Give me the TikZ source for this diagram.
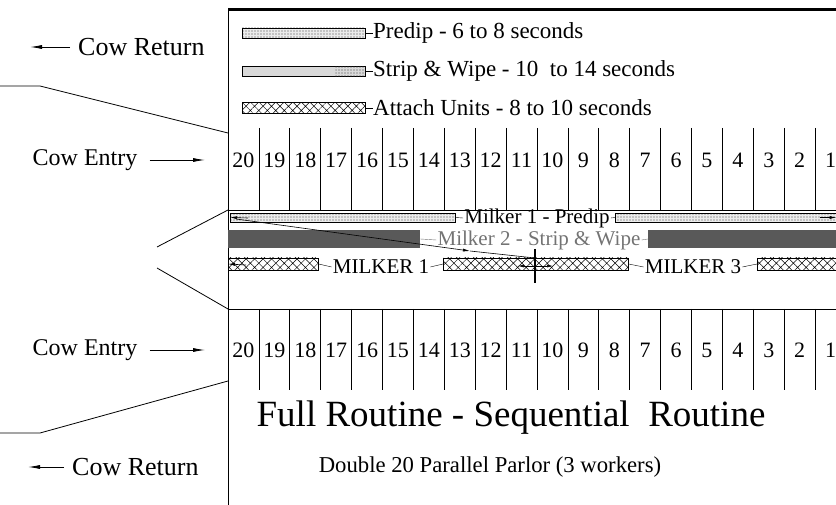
\documentclass[tikz,border=0pt]{standalone}
\usepackage{fontspec}
\setmainfont{Liberation Serif}
\usetikzlibrary{arrows.meta,patterns.meta}

\tikzset{
  stall/.style={line width=0.7pt},
  stallnum/.style={font=\fontsize{22}{22}\selectfont, inner sep=0pt},
  legendtxt/.style={font=\fontsize{23}{23}\selectfont, anchor=west, inner sep=0pt},
  cowtxt/.style={font=\fontsize{24}{24}\selectfont, inner sep=0pt},
  returntxt/.style={font=\fontsize{26}{26}\selectfont, inner sep=0pt, anchor=west},
  milkertxt/.style={font=\fontsize{21}{21}\selectfont, inner sep=1pt},
  barnode/.style={anchor=west, inner sep=0pt, minimum height=#1},
  predipbar/.style={draw, line width=0.5pt, preaction={fill=black!8},
    pattern={Dots[distance=3pt,radius=0.55pt]}, pattern color=black!75},
  stripbar/.style={fill=black!65},
  attachbar/.style={draw, line width=0.6pt, fill=white,
    pattern={Hatch[angle=45,distance=6pt,line width=0.5pt]}},
  cowarrow/.style={-{Latex[length=12pt,width=4pt]}, line width=0.8pt},
  milkarrow/.style={-{Latex[length=7pt,width=3pt]}, line width=0.6pt},
}

\begin{document}
\begin{tikzpicture}[x=1pt,y=-1pt]
  \useasboundingbox (0,0) rectangle (836,505);

  % frame
  \draw[line width=0.8pt] (228,8) -- (228,505);
  \draw[line width=3pt] (228,10) -- (836,10);
  \draw[line width=0.8pt] (228,210) -- (836,210);
  \draw[line width=0.8pt] (228,309) -- (836,309);

  % legend
  \node[barnode=10pt, minimum width=123pt, predipbar] (legpre) at (242,33) {};
  \node[legendtxt] (legpretxt) at (373,33) {Predip - 6 to 8 seconds};
  \draw (legpre.east) -- (legpretxt.west);
  \node[barnode=10pt, minimum width=123pt, draw, line width=0.5pt, fill=black!15] (legstrip) at (242,71) {};
  \fill[pattern={Dots[distance=3pt,radius=0.55pt]}, pattern color=black!75]
    ([xshift=-30pt]legstrip.north east) rectangle (legstrip.south east);
  \node[legendtxt] (legstriptxt) at (373,71) {Strip \& Wipe - 10\ \ to 14 seconds};
  \draw (legstrip.east) -- (legstriptxt.west);
  \node[barnode=11pt, minimum width=123pt, attachbar] (legatt) at (242,108) {};
  \node[legendtxt] (legatttxt) at (373,108) {Attach Units - 8 to 10 seconds};
  \draw (legatt.east) -- (legatttxt.west);

  % stalls
  \foreach \k [evaluate=\k as \n using int(20-\k)] in {0,...,19} {
    \node[stallnum] (top\n) at ({228+30.9*(\k+0.5)},160) {\n};
    \node[stallnum] (bot\n) at ({228+30.9*(\k+0.5)},350) {\n};
  }
  \foreach \k in {1,...,19} {
    \draw[stall] ({228+30.9*\k},128) -- ({228+30.9*\k},210);
    \draw[stall] ({228+30.9*\k},309) -- ({228+30.9*\k},390);
  }

  % milker 1 - predip
  \node[barnode=9pt, minimum width=225pt, predipbar] (pre1) at (230,217.5) {};
  \node[milkertxt] (prelbl) at (537,218) {Milker 1 - Predip};
  \node[barnode=9pt, minimum width=221pt, predipbar] (pre2) at (615,217.5) {};
  \draw (pre1.east) -- (prelbl.west);
  \draw (prelbl.east) -- (pre2.west);
  \coordinate (m1a) at (248,218);
  \coordinate (m1b) at (820,217.5);
  \draw[milkarrow] (m1a) -- (pre1.west);
  \draw[milkarrow] (m1b) -- (pre2.east);

  % milker 2 - strip & wipe
  \node[barnode=18pt, minimum width=192pt, stripbar] (strip1) at (228,239) {};
  \node[milkertxt, text=black!55] (striplbl) at (539,240) {Milker 2 - Strip \& Wipe};
  \node[barnode=18pt, minimum width=188pt, stripbar] (strip2) at (648,239) {};
  \draw[black!55] (strip1.east) -- (striplbl.west);
  \draw[black!55] (striplbl.east) -- (strip2.west);

  % milker 1 / milker 3 - attach
  \node[barnode=12pt, minimum width=90pt, attachbar] (att1) at (228,264) {};
  \node[milkertxt] (m1lbl) at (381,267) {MILKER 1};
  \node[barnode=12pt, minimum width=185pt, attachbar] (att2) at (443,264) {};
  \node[milkertxt] (m3lbl) at (693,267) {MILKER 3};
  \node[barnode=12pt, minimum width=79pt, attachbar] (att3) at (757,264) {};
  \draw (att1.east) -- (m1lbl.west);
  \draw (m1lbl.east) -- (att2.west);
  \draw (att2.east) -- (m3lbl.west);
  \draw (m3lbl.east) -- (att3.west);
  \coordinate (m1c) at (246,265);
  \draw[milkarrow] (m1c) -- (att1.west);

  % return walk and change-over
  \coordinate (retstart) at (236,219);
  \coordinate (retmid) at (470,251);
  \coordinate (cross) at (535,258);
  \coordinate (crosstop) at (535,249);
  \coordinate (crossbot) at (535,283);
  \coordinate (swapl) at (518,266);
  \coordinate (swapr) at (553,266);
  \draw[milkarrow] (retstart) -- (retmid);
  \draw[line width=0.6pt] (retmid) -- (cross);
  \draw[line width=2pt] (crosstop) -- (crossbot);
  \draw[{Latex[length=6pt,width=3pt]}-{Latex[length=6pt,width=3pt]}, line width=0.6pt] (swapl) -- (swapr);

  % cow traffic, left side
  \node[returntxt] (ret1) at (78,47) {Cow Return};
  \coordinate (ret1tip) at (30,47);
  \draw[cowarrow] ([xshift=-8pt]ret1.west) -- (ret1tip);
  \node[cowtxt] (entry1) at (85,160) {Cow Entry};
  \coordinate (entry1tip) at (205,160);
  \draw[cowarrow] ([xshift=12pt]entry1.east) -- (entry1tip);
  \node[cowtxt] (entry2) at (85,350) {Cow Entry};
  \coordinate (entry2tip) at (205,350);
  \draw[cowarrow] ([xshift=12pt]entry2.east) -- (entry2tip);
  \node[returntxt] (ret2) at (72,467) {Cow Return};
  \coordinate (ret2tip) at (28,467);
  \draw[cowarrow] ([xshift=-8pt]ret2.west) -- (ret2tip);

  % wall outlines
  \coordinate (wa) at (0,86);
  \coordinate (wb) at (40,86);
  \coordinate (wc) at (228,133);
  \coordinate (wd) at (157,247);
  \coordinate (we) at (228,210);
  \coordinate (wf) at (157,268);
  \coordinate (wg) at (228,309);
  \coordinate (wh) at (228,381);
  \coordinate (wi) at (40,433);
  \coordinate (wj) at (0,433);
  \draw[line width=0.8pt] (wa) -- (wb) -- (wc);
  \draw[line width=0.8pt] (wd) -- (we);
  \draw[line width=0.8pt] (wf) -- (wg);
  \draw[line width=0.8pt] (wh) -- (wi) -- (wj);

  % titles
  \node[font=\fontsize{37}{37}\selectfont] (title) at (511,418) {Full Routine - Sequential\ \ Routine};
  \node[font=\fontsize{22.7}{22.7}\selectfont] (subtitle) at (490,467) {Double 20 Parallel Parlor (3 workers)};
\end{tikzpicture}
\end{document}
